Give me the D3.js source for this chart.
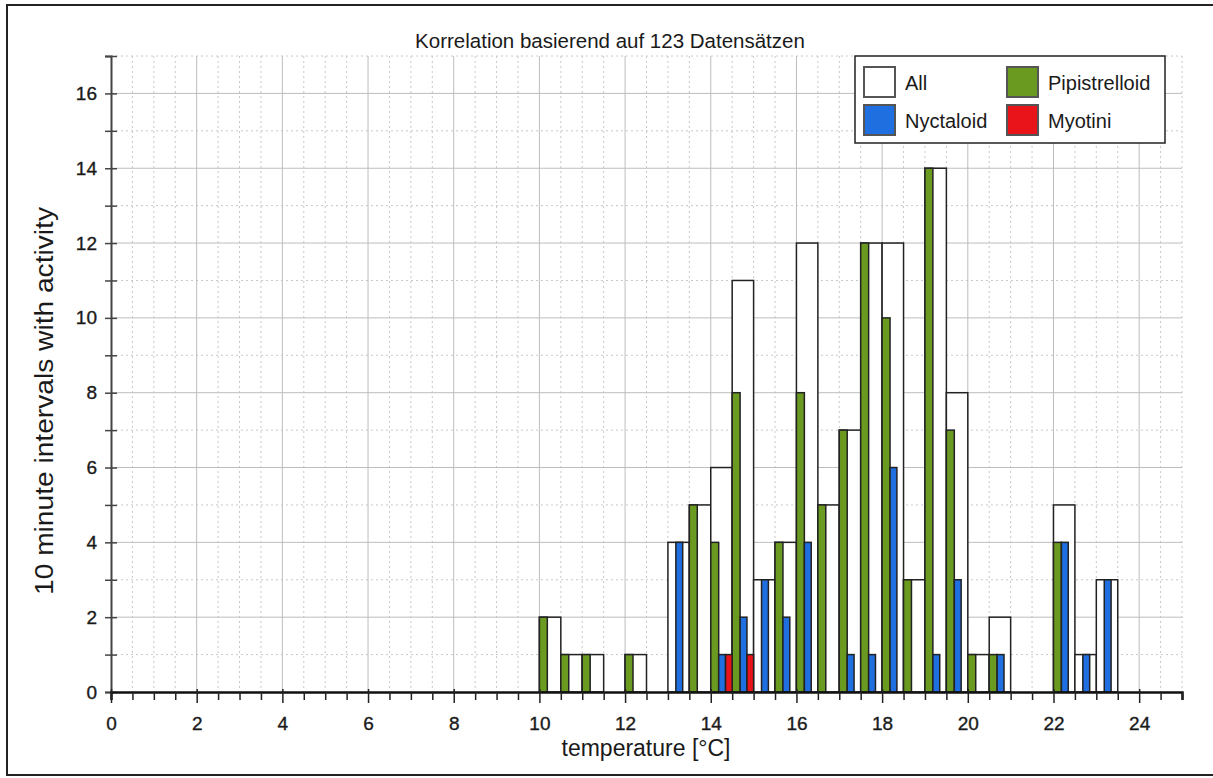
<!DOCTYPE html>
<html>
<head>
<meta charset="utf-8">
<script src="https://cdn.jsdelivr.net/npm/d3@7"></script>
<style>
  body { margin: 0; background: #fff; }
  svg text { font-family: "Liberation Sans", Arial, Helvetica, sans-serif; fill: #1a1a1a; }
</style>
</head>
<body>
<div id="chart"></div>
<script>
// temperature bins (lower edge, 0.5 °C wide)
const bins = [10, 10.5, 11, 12, 13, 13.5, 14, 14.5, 15, 15.5, 16, 16.5, 17, 17.5, 18, 18.5, 19, 19.5, 20, 20.5, 22, 22.5, 23];
// counts per bin
const allCounts     = [2, 1, 1, 1, 4, 5, 6, 11, 3, 4, 12, 5, 7, 12, 12, 3, 14, 8, 1, 2, 5, 1, 3];
const pipistrelloid = [2, 1, 1, 1, 0, 5, 4, 8, 0, 4, 8, 5, 7, 12, 10, 3, 14, 7, 1, 1, 4, 0, 0];
const nyctaloid     = [0, 0, 0, 0, 4, 0, 1, 2, 3, 2, 4, 0, 1, 1, 6, 0, 1, 3, 0, 1, 4, 1, 3];
const myotini       = [0, 0, 0, 0, 0, 0, 1, 1, 0, 0, 0, 0, 0, 0, 0, 0, 0, 0, 0, 0, 0, 0, 0];

const xTicks = [0, 2, 4, 6, 8, 10, 12, 14, 16, 18, 20, 22, 24];
const yTicks = [0, 2, 4, 6, 8, 10, 12, 14, 16];
const binWidth = 0.5;

const seriesNames = ["All", "Pipistrelloid", "Nyctaloid", "Myotini"];
const seriesColors = ["#ffffff", "#6b9a21", "#1f6fe0", "#e8141a"];

function makeChart(){
  const W = 1213, H = 778;
  const margin = {top: 56, right: 31, bottom: 86, left: 111};
  const width = W - margin.left - margin.right,
        height = H - margin.top - margin.bottom;

  const svg = d3.select("#chart")
    .append("svg")
      .attr("width", W)
      .attr("height", H);

  // outer frame
  svg.append("rect")
    .attr("x", 7).attr("y", 5)
    .attr("width", 1212).attr("height", 770)
    .attr("fill", "#fff")
    .attr("stroke", "#222")
    .attr("stroke-width", 2);

  const g = svg.append("g")
    .attr("transform", `translate(${margin.left},${margin.top})`);

  const x = d3.scaleLinear().domain([0, 25]).range([0, width]);
  const y = d3.scaleLinear().domain([0, 17]).range([height, 0]);

  // grid: minor dotted, major solid
  const minorX = d3.range(0.5, 25.01, 0.5).filter(v => v % 2 !== 0);
  const minorY = d3.range(1, 17.01, 1).filter(v => v % 2 !== 0);
  g.append("g").selectAll("line")
    .data(minorX)
    .join("line")
      .attr("x1", d => x(d)).attr("x2", d => x(d))
      .attr("y1", 0).attr("y2", height)
      .attr("stroke", "#c8c8c8")
      .attr("stroke-dasharray", "2,3");
  g.append("g").selectAll("line")
    .data(minorY)
    .join("line")
      .attr("x1", 0).attr("x2", width)
      .attr("y1", d => y(d)).attr("y2", d => y(d))
      .attr("stroke", "#c8c8c8")
      .attr("stroke-dasharray", "2,3");
  g.append("g").selectAll("line")
    .data(xTicks.filter(d => d > 0))
    .join("line")
      .attr("x1", d => x(d)).attr("x2", d => x(d))
      .attr("y1", 0).attr("y2", height)
      .attr("stroke", "#bdbdbd");
  g.append("g").selectAll("line")
    .data(yTicks.filter(d => d > 0))
    .join("line")
      .attr("x1", 0).attr("x2", width)
      .attr("y1", d => y(d)).attr("y2", d => y(d))
      .attr("stroke", "#bdbdbd");

  // bars: All spans the whole bin, the groups sit side by side inside it
  const data = bins.map((b, i) => ({bin: b, all: allCounts[i], pip: pipistrelloid[i], nyc: nyctaloid[i], myo: myotini[i]}));
  const parts = [
    {key: "all", from: 0, to: 1, color: seriesColors[0]},
    {key: "pip", from: 0, to: 0.37, color: seriesColors[1]},
    {key: "nyc", from: 0.37, to: 0.69, color: seriesColors[2]},
    {key: "myo", from: 0.69, to: 1, color: seriesColors[3]}
  ];
  parts.forEach(p => {
    g.append("g").selectAll("rect")
      .data(data.filter(d => d[p.key] > 0))
      .join("rect")
        .attr("x", d => x(d.bin + p.from * binWidth))
        .attr("width", d => x(d.bin + p.to * binWidth) - x(d.bin + p.from * binWidth))
        .attr("y", d => y(d[p.key]))
        .attr("height", d => y(0) - y(d[p.key]))
        .attr("fill", p.color)
        .attr("stroke", "#222")
        .attr("stroke-width", 1.5);
  });

  const tickFont = sel => sel
    .attr("font-size", "19px")
    .attr("stroke", "#1a1a1a")
    .attr("stroke-width", 0.35)
    .style("font-family", "'Liberation Sans', Arial, sans-serif");

  // Y axis
  const yAxis = g.append("g")
    .call(d3.axisLeft(y).tickValues(d3.range(0, 18, 1)).tickSize(6).tickFormat(d => d % 2 === 0 && d < 17 ? d : ""));
  yAxis.select(".domain").attr("stroke", "#444").attr("stroke-width", 2);
  yAxis.selectAll(".tick line").attr("x2", 6).attr("x1", -6).attr("stroke", "#444").attr("stroke-width", 1.5);
  yAxis.selectAll(".tick text").attr("x", -14).call(tickFont);

  // X axis
  const xAxis = g.append("g")
    .attr("transform", `translate(0,${height})`)
    .call(d3.axisBottom(x).tickValues(d3.range(0, 25.01, 0.5)).tickSize(8).tickFormat(d => xTicks.includes(d) ? d : ""));
  xAxis.select(".domain").attr("stroke", "#111").attr("stroke-width", 2.5);
  xAxis.selectAll(".tick line").attr("stroke", "#222").attr("stroke-width", 1.5)
    .attr("y1", d => xTicks.includes(d) ? -3 : 0)
    .attr("y2", d => xTicks.includes(d) ? 11 : 8);
  xAxis.selectAll(".tick text").attr("y", 25).call(tickFont);

  // titles
  svg.append("text")
    .attr("x", 610).attr("y", 48)
    .attr("text-anchor", "middle")
    .attr("font-size", "20.5px")
    .text("Korrelation basierend auf 123 Datensätzen");
  svg.append("text")
    .attr("x", 646).attr("y", 756)
    .attr("text-anchor", "middle")
    .attr("font-size", "23px")
    .text("temperature [°C]");
  svg.append("text")
    .attr("transform", "translate(53,401) rotate(-90)")
    .attr("text-anchor", "middle")
    .attr("font-size", "25px")
    .attr("textLength", 388)
    .attr("lengthAdjust", "spacingAndGlyphs")
    .text("10 minute intervals with activity");

  // legend
  const legend = svg.append("g").attr("transform", "translate(855,56)");
  legend.append("rect")
    .attr("width", 310).attr("height", 87)
    .attr("fill", "#fff")
    .attr("stroke", "#222")
    .attr("stroke-width", 1.5);
  const legendPos = [[9, 11], [152, 11], [9, 49], [152, 49]];
  const legendOrder = [0, 1, 2, 3];
  legend.selectAll("g.item")
    .data(legendOrder)
    .join("g")
      .attr("class", "item")
      .attr("transform", (d, i) => `translate(${legendPos[i][0]},${legendPos[i][1]})`)
      .each(function(d){
        const it = d3.select(this);
        it.append("rect")
          .attr("width", 31).attr("height", 30)
          .attr("fill", seriesColors[d])
          .attr("stroke", "#555")
          .attr("stroke-width", 2);
        it.append("text")
          .attr("x", 41).attr("y", 23)
          .attr("font-size", "20px")
          .text(seriesNames[d]);
      });
}

makeChart();
</script>
</body>
</html>
